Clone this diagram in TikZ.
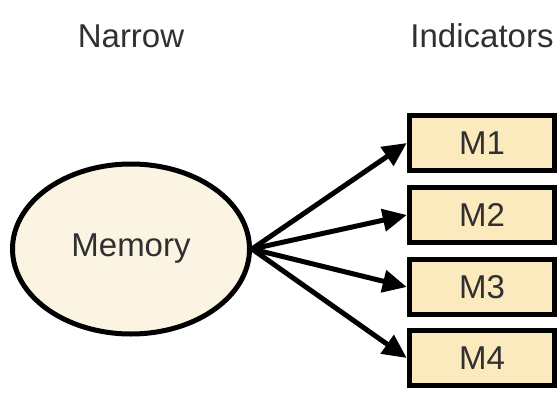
\documentclass[tikz,border=0pt]{standalone}
\usepackage{fontspec}
\setmainfont{Liberation Sans}
\usetikzlibrary{arrows.meta,shapes.geometric}
\definecolor{latentfill}{HTML}{FCF4E2}
\definecolor{itemfill}{HTML}{FCEABF}
\definecolor{labeltext}{HTML}{303030}
\begin{document}
\begin{tikzpicture}[x=1pt,y=-1pt,
  every node/.style={font=\fontsize{33}{38}\selectfont, text=labeltext},
  latent/.style={ellipse, draw=black, line width=5pt, fill=latentfill,
    minimum width=237pt, minimum height=170pt, inner sep=0pt},
  indicator/.style={rectangle, draw=black, line width=5.5pt, fill=itemfill,
    minimum width=145pt, minimum height=55pt, inner sep=0pt},
  loading/.style={line width=5pt, -{Triangle[length=24pt,width=22pt]}, shorten <=-1pt},
  heading/.style={anchor=center}]
\useasboundingbox (0,0) rectangle (559,393);
\node[heading] (hnarrow) at (131,36) {Narrow};
\node[heading] (hind) at (482,36) {Indicators};
\node[latent] (mem) at (131,249) {Memory};
\node[indicator] (m1) at (482,143) {M1};
\node[indicator] (m2) at (482,215) {M2};
\node[indicator] (m3) at (482,287) {M3};
\node[indicator] (m4) at (482,358) {M4};
\foreach \m in {m1,m2,m3,m4}
  \draw[loading] (mem.east) -- (\m.west);
\end{tikzpicture}
\end{document}
